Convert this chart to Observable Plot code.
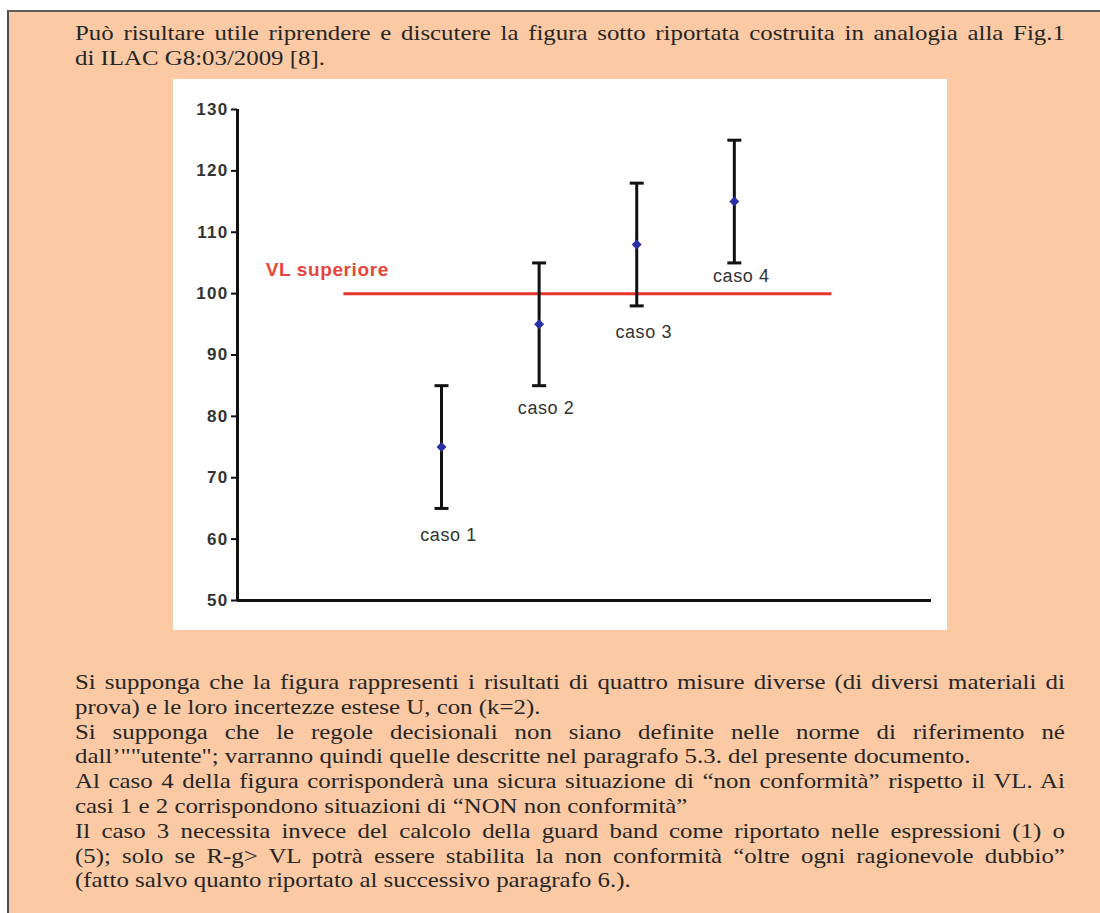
<!DOCTYPE html>
<html>
<head>
<meta charset="utf-8">
<script src="https://cdn.jsdelivr.net/npm/d3@7"></script>
<script src="https://cdn.jsdelivr.net/npm/@observablehq/plot@0.6"></script>
<style>
  html, body { margin: 0; padding: 0; background: #ffffff; }
  #page { position: relative; width: 1100px; height: 913px; overflow: hidden; }
  #box { position: absolute; left: 7px; top: 10px; right: 0; bottom: 0;
         background: #fbcaa4; border-top: 2px solid #5e5e5e; border-left: 2px solid #4e4e4e; }
  .txt { position: absolute; left: 75px; width: 876px; font-family: "Liberation Serif", "Times New Roman", serif;
         font-size: 22px; color: #262626; line-height: 24.8px; transform: scaleX(1.13); transform-origin: 0 0; }
  .txt div { white-space: nowrap; }
  .txt div.j { text-align: justify; text-align-last: justify; white-space: normal; }
  #chart { position: absolute; left: 173px; top: 79px; width: 774px; height: 551px; background: #fff; }
  #chart svg text.tk { letter-spacing: 1.3px; }
  #chart svg g.lab text { letter-spacing: 0.6px; }
  #chart svg g.vl text { letter-spacing: 0.6px; }
</style>
</head>
<body>
<div id="page">
  <div id="box"></div>
  <div class="txt" id="top" style="top:21px;"></div>
  <div id="chart"></div>
  <div class="txt" id="bottom" style="top:670px;"></div>
</div>
<script>
// ---- data ----
const casi = ["caso 1", "caso 2", "caso 3", "caso 4"];
const posizione = [1, 2, 3, 4];
const valori = [75, 95, 108, 115];
const inferiore = [65, 85, 98, 105];
const superiore = [85, 105, 118, 125];
const etichettaY = [60.6, 81.3, 93.7, 102.8];
const yTicks = [50, 60, 70, 80, 90, 100, 110, 120, 130];
const VL = 100;
const vlDa = 0, vlA = 5;
const vlEtichetta = "VL superiore";
const vlEtichettaPos = [-0.8, 103.8];

const testoSopra = [
  ["Può risultare utile riprendere e discutere la figura sotto riportata costruita in analogia alla Fig.1", true],
  ["di ILAC G8:03/2009 [8].", false]
];
const testoSotto = [
  ["Si supponga che la figura rappresenti i risultati di quattro misure diverse (di diversi materiali di", true],
  ["prova) e le loro incertezze estese U, con (k=2).", false],
  ["Si supponga  che le regole decisionali non siano definite nelle norme di riferimento né", true],
  ["dall\u2019\"\"utente\"; varranno quindi quelle descritte nel paragrafo 5.3. del presente documento.", false],
  ["Al caso 4 della figura corrisponderà una sicura situazione di \u201cnon conformità\u201d rispetto il VL. Ai", true],
  ["casi 1 e 2 corrispondono situazioni di \u201cNON non conformità\u201d", false],
  ["Il caso 3 necessita invece del calcolo della guard band come riportato nelle espressioni (1) o", true],
  ["(5); solo se R-g> VL potrà essere stabilita la non conformità \u201coltre ogni ragionevole dubbio\u201d", true],
  ["(fatto salvo quanto riportato al successivo paragrafo 6.).", false]
];

function fill(id, lines) {
  const el = document.getElementById(id);
  for (const [t, j] of lines) {
    const d = document.createElement("div");
    d.textContent = t;
    if (j) d.className = "j";
    el.appendChild(d);
  }
}
fill("top", testoSopra);
fill("bottom", testoSotto);

const dati = casi.map((c, i) => ({
  caso: c, x: posizione[i], v: valori[i], lo: inferiore[i], hi: superiore[i], ly: etichettaY[i]
}));

const xDom = [-1.09, 6.02];
const cap = { draw(ctx, size) { const r = Math.sqrt(size / Math.PI); ctx.moveTo(-r, 0); ctx.lineTo(r, 0); } };

const chart = Plot.plot({
  width: 774,
  height: 551,
  marginLeft: 64,
  marginRight: 16,
  marginTop: 30,
  marginBottom: 30,
  x: { domain: xDom, axis: null },
  y: { domain: [50, 130] },
  style: { background: "#ffffff", fontFamily: "Liberation Sans, Arial, sans-serif", color: "#222" },
  marks: [
    Plot.axisY({ ticks: yTicks, tickSize: 6, tickPadding: 3, fontSize: 17, fontWeight: "bold",
                 fill: "#333", stroke: "#111", strokeWidth: 2, tickFormat: d => String(d) }),
    Plot.ruleX([xDom[0]], { y1: 50, y2: 130, stroke: "#111", strokeWidth: 3 }),
    Plot.ruleY([50], { stroke: "#111", strokeWidth: 3 }),
    Plot.ruleY([VL], { x1: vlDa, x2: vlA, stroke: "#e8352b", strokeWidth: 3 }),
    Plot.text([vlEtichetta], { x: vlEtichettaPos[0], y: vlEtichettaPos[1], text: d => d, textAnchor: "start",
                fontSize: 19, fontWeight: "bold", fill: "#e8453c", className: "vl" }),
    Plot.ruleX(dati, { x: "x", y1: "lo", y2: "hi", stroke: "#111", strokeWidth: 3 }),
    Plot.dot(dati, { x: "x", y: "lo", symbol: cap, r: 7, stroke: "#111", strokeWidth: 3, fill: "none" }),
    Plot.dot(dati, { x: "x", y: "hi", symbol: cap, r: 7, stroke: "#111", strokeWidth: 3, fill: "none" }),
    Plot.dot(dati, { x: "x", y: "v", symbol: "diamond2", r: 4.5, fill: "#2b2fa5", stroke: "none" }),
    Plot.text(dati, { x: "x", y: "ly", text: "caso", dx: 7, fontSize: 18, fill: "#333", className: "lab" })
  ]
});
// tick labels get a little letter spacing to match the reference's wide digits
d3.select(chart).selectAll("g[aria-label='y-axis tick label'] text").classed("tk", true);
document.getElementById("chart").appendChild(chart);
</script>
</body>
</html>
